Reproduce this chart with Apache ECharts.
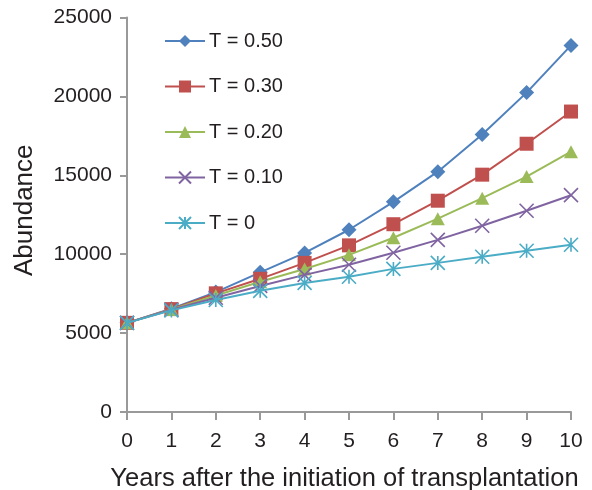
<!DOCTYPE html>
<html>
<head>
<meta charset="utf-8">
<title>Abundance after transplantation</title>
<script src="https://cdn.jsdelivr.net/npm/echarts@6/dist/echarts.min.js"></script>
<style>
  html, body { margin: 0; padding: 0; background: #fff; }
  #chart { width: 592px; height: 490px; }
</style>
</head>
<body>
<div id="chart"></div>
<script>
// Years after the start of transplantation
const years = [0, 1, 2, 3, 4, 5, 6, 7, 8, 9, 10];

// Abundance for each transplantation rate T
const seriesNames = ['T = 0.50', 'T = 0.30', 'T = 0.20', 'T = 0.10', 'T = 0'];
const abundanceT050 = [5650, 6550, 7600, 8850, 10080, 11550, 13320, 15230, 17580, 20240, 23230];
const abundanceT030 = [5650, 6520, 7520, 8440, 9450, 10560, 11900, 13390, 15040, 17000, 19040];
const abundanceT020 = [5650, 6500, 7380, 8250, 9060, 9960, 11040, 12250, 13550, 14920, 16500];
const abundanceT010 = [5650, 6480, 7240, 7990, 8690, 9330, 10090, 10910, 11800, 12750, 13740];
const abundanceT000 = [5650, 6440, 7100, 7680, 8180, 8570, 9070, 9450, 9840, 10220, 10600];

const yTicks = [0, 5000, 10000, 15000, 20000, 25000];

const FONT = '"Liberation Sans", Arial, Helvetica, sans-serif';
const TEXT = '#231f20';
const AXIS = '#999999';

const crossPath = 'path://M0,0L10,10M10,0L0,10';
const starPath = 'path://M0,0L10,10M10,0L0,10M5,0L5,10';

const styles = [
  { color: '#4F81BD', symbol: 'diamond', size: 15, stroke: false },
  { color: '#C0504D', symbol: 'rect', size: 14, stroke: false },
  { color: '#9BBB59', symbol: 'triangle', size: [14, 13], stroke: false },
  { color: '#8064A2', symbol: crossPath, size: 14, stroke: true },
  { color: '#4BACC6', symbol: starPath, size: 14, stroke: true }
];
const values = [abundanceT050, abundanceT030, abundanceT020, abundanceT010, abundanceT000];

const series = seriesNames.map((name, i) => {
  const s = styles[i];
  return {
    name: name,
    type: 'line',
    data: years.map((x, j) => [x, values[i][j]]),
    symbol: s.symbol,
    symbolSize: s.size,
    showAllSymbol: true,
    lineStyle: { color: s.color, width: 2 },
    itemStyle: s.stroke
      ? { color: 'rgba(0,0,0,0)', borderColor: s.color, borderWidth: 1.6 }
      : { color: s.color, borderWidth: 0 },
    emphasis: { disabled: true },
    animation: false,
    z: 2 + i
  };
});

const chart = echarts.init(document.getElementById('chart'), null, { renderer: 'canvas' });
chart.setOption({
  backgroundColor: '#ffffff',
  animation: false,
  grid: {
    left: 127, right: 21, top: 17.5, bottom: 78,
    containLabel: false,
    outerBoundsMode: 'none'
  },
  legend: {
    orient: 'vertical',
    left: 164,
    top: 31,
    padding: 0,
    itemWidth: 40,
    itemHeight: 15,
    itemGap: 25.5,
    textStyle: { fontFamily: FONT, fontSize: 20, color: TEXT, padding: [0, 0, 0, -1] },
    data: seriesNames
  },
  xAxis: {
    type: 'value',
    min: 0,
    max: 10,
    interval: 1,
    name: 'Years after the initiation of transplantation',
    nameLocation: 'middle',
    nameGap: 54,
    nameTextStyle: { fontFamily: FONT, fontSize: 25.5, color: TEXT, padding: [0, 9, 0, 0] },
    axisLine: { show: true, lineStyle: { color: AXIS, width: 2 } },
    axisTick: { show: true, length: 8, lineStyle: { color: AXIS, width: 2 } },
    axisLabel: { fontFamily: FONT, fontSize: 21, color: TEXT, margin: 19 },
    splitLine: { show: false }
  },
  yAxis: {
    type: 'value',
    min: yTicks[0],
    max: yTicks[yTicks.length - 1],
    interval: yTicks[1] - yTicks[0],
    name: 'Abundance',
    nameLocation: 'middle',
    nameGap: 89,
    nameTextStyle: { fontFamily: FONT, fontSize: 26, color: TEXT, padding: [0, 0, 0, 9] },
    axisLine: { show: true, lineStyle: { color: AXIS, width: 2 } },
    axisTick: { show: true, length: 7, lineStyle: { color: AXIS, width: 2 } },
    axisLabel: {
      fontFamily: FONT, fontSize: 21, color: TEXT, margin: 15,
      formatter: (v) => String(v)
    },
    splitLine: { show: false }
  },
  series: series
});
</script>
</body>
</html>
